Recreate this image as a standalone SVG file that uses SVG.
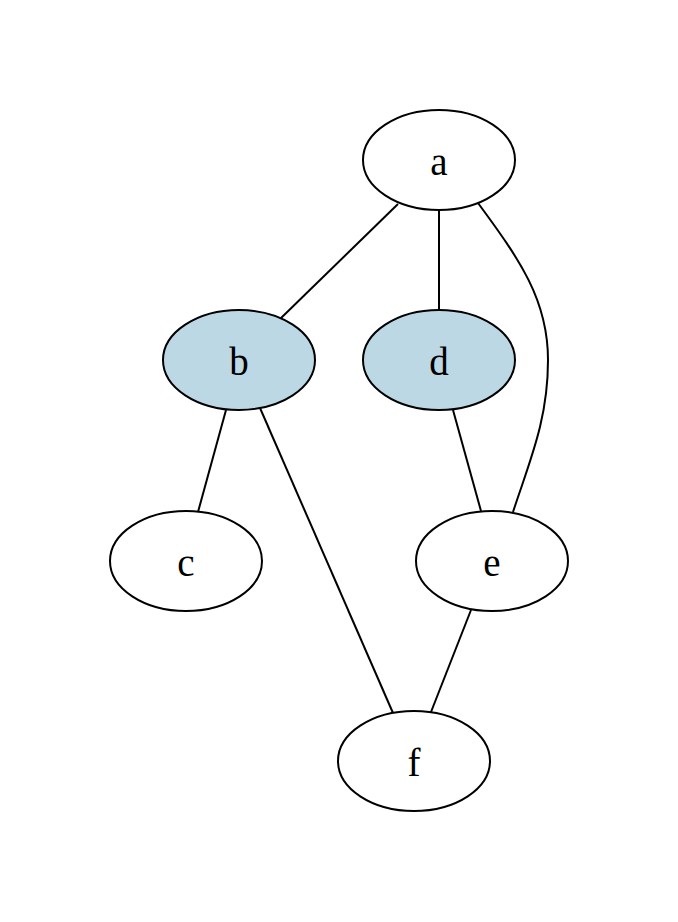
<svg xmlns="http://www.w3.org/2000/svg" width="678" height="922" viewBox="0 0 678 922">
  <style>
    .node ellipse { fill: #ffffff; stroke: #000000; stroke-width: 2; }
    .node.hl ellipse { fill: #bcd8e5; }
    .node text { font-family: "Liberation Serif", "Times New Roman", serif; font-size: 39px; text-anchor: middle; fill: #000000; }
    .edges path { fill: none; stroke: #000000; stroke-width: 2; }
  </style>
  <rect width="678" height="922" fill="#ffffff"/>
  <g class="edges" id="edges">
    <path d="M398,204 L279,320"/>
    <path d="M439,210 L439,310"/>
    <path d="M478,203 C520,260 548,300 548,360 C548,420 530,460 513,512"/>
    <path d="M226,410 L198,512"/>
    <path d="M260,408 L393,713"/>
    <path d="M453,410 L481,511"/>
    <path d="M471,610 L431,712"/>
  </g>
  <g class="node" id="a">
    <ellipse cx="439" cy="160" rx="76" ry="50"/>
    <text x="439" y="175">a</text>
  </g>
  <g class="node hl" id="b">
    <ellipse cx="239" cy="360" rx="76" ry="50"/>
    <text x="239" y="375">b</text>
  </g>
  <g class="node hl" id="d">
    <ellipse cx="439" cy="360" rx="76" ry="50"/>
    <text x="439" y="375">d</text>
  </g>
  <g class="node" id="c">
    <ellipse cx="186" cy="561" rx="76" ry="50"/>
    <text x="186" y="576">c</text>
  </g>
  <g class="node" id="e">
    <ellipse cx="492" cy="561" rx="76" ry="50"/>
    <text x="492" y="576">e</text>
  </g>
  <g class="node" id="f">
    <ellipse cx="414" cy="761" rx="76" ry="50"/>
    <text x="414" y="776">f</text>
  </g>
</svg>
